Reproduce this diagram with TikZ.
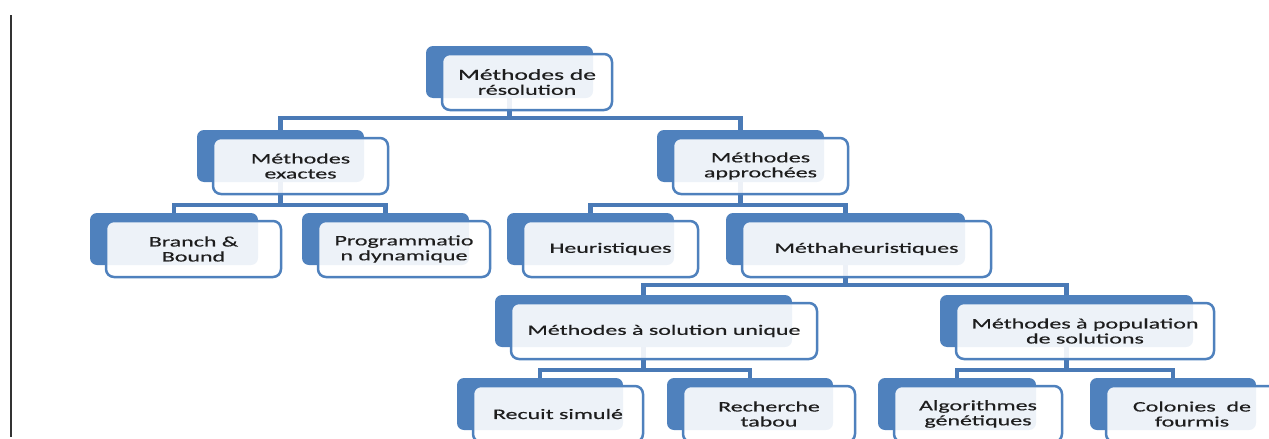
\documentclass[tikz,border=0pt]{standalone}
\usepackage{fontspec}
\setmainfont[FakeStretch=1.65, FakeBold=0.5]{Carlito}
\usetikzlibrary{calc}
\definecolor{accent}{HTML}{4F81BD}
\definecolor{linkblue}{HTML}{4A7AB6}
\definecolor{inktext}{HTML}{1E1E1E}
\pgfdeclarelayer{bg}
\pgfsetlayers{bg,main}

\tikzset{
  backbox/.style={fill=accent, draw=none, rounded corners=7pt, inner sep=0pt,
    outer sep=0pt, minimum height=52pt, anchor=north west},
  frontbox/.style={fill=white, fill opacity=0.9, text opacity=1, draw=accent,
    draw opacity=1, line width=2.5pt, rounded corners=8pt, inner sep=0pt,
    outer sep=0pt, minimum height=56pt, anchor=north west, align=center,
    text=inktext, font=\fontsize{14.5}{15}\selectfont},
  conn/.style={draw=linkblue, line width=4.5pt, line join=miter},
}

% name, x, y (top-left of the filled tab), tab width, card width, label
\newcommand\tabcard[6]{%
  \node[backbox, minimum width=#4pt] (#1) at (#2,#3) {};
  \node[frontbox, minimum width=#5pt] (#1-t) at ([shift={(16,8)}]#1.north west) {#6};
}

\begin{document}
\begin{tikzpicture}[x=1pt, y=-1pt]
  \useasboundingbox (0,0) rectangle (1269,439);
  \clip (0,0) rectangle (1269,439);

  % rule on the left margin
  \draw[line width=1.5pt, black!80] (11,15) coordinate (rt) -- (11,437) coordinate (rb);

  % level 0
  \tabcard{root}{426}{46}{167}{170}{\fontsize{15.5}{15}\selectfont Méthodes de\\résolution}
  % level 1
  \tabcard{exact}{197}{130}{167}{175}{Méthodes\\exactes}
  \tabcard{approx}{657}{130}{167}{175}{Méthodes\\approchées}
  % level 2
  \tabcard{bb}{90}{213}{168}{175}{Branch \&\\Bound}
  \tabcard{dyn}{302}{213}{167}{172}{Programmatio\\n dynamique}
  \tabcard{heur}{507}{213}{167}{175}{Heuristiques}
  \tabcard{meta}{726}{213}{239}{249}{Méthaheuristiques}
  % level 3
  \tabcard{single}{495}{295}{297}{306}{Méthodes à solution unique}
  \tabcard{popul}{940}{295}{253}{258}{Méthodes à population\\de solutions}
  % level 4
  \tabcard{recuit}{457}{378}{166}{170}{Recuit simulé}
  \tabcard{tabou}{667}{378}{166}{172}{Recherche\\tabou}
  \tabcard{algo}{878}{378}{158}{168}{Algorithmes\\génétiques}
  \tabcard{ants}{1090}{378}{166}{172}{Colonies\ \ de\\fourmis}

  \begin{pgfonlayer}{bg}
    \draw[conn] (root.south) -- ++(0,20) -| (exact.north);
    \draw[conn] (root.south) -- ++(0,20) -| (approx.north);
    \draw[conn] (exact.south) -- ++(0,23) -| (bb.north);
    \draw[conn] (exact.south) -- ++(0,23) -| (dyn.north);
    \draw[conn] (approx.south) -- ++(0,23) -| (heur.north);
    \draw[conn] (approx.south) -- ++(0,23) -| (meta.north);
    \draw[conn] (meta.south) -- ++(0,20) -| (single.north);
    \draw[conn] (meta.south) -- ++(0,20) -| (popul.north);
    \draw[conn] (single.south) -- ++(0,23) -| (recuit.north);
    \draw[conn] (single.south) -- ++(0,23) -| (tabou.north);
    \draw[conn] (popul.south) -- ++(0,23) -| (algo.north);
    \draw[conn] (popul.south) -- ++(0,23) -| (ants.north);
  \end{pgfonlayer}
\end{tikzpicture}
\end{document}
